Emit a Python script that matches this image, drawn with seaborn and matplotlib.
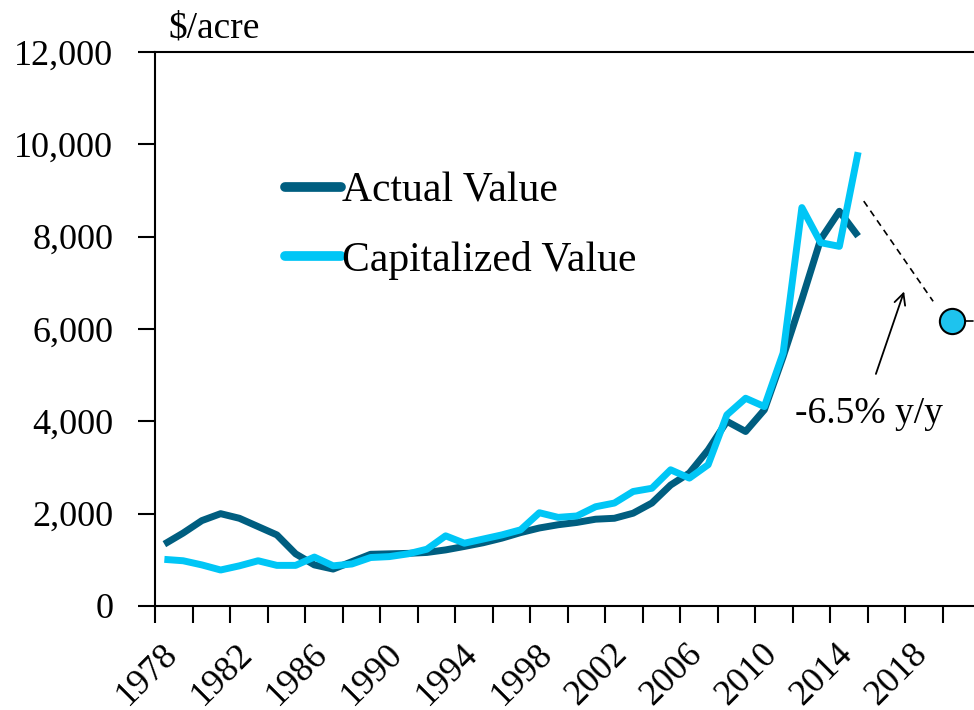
import matplotlib
matplotlib.use("Agg")
import matplotlib.pyplot as plt
import matplotlib.transforms as mtransforms
import seaborn as sns
import pandas as pd
import numpy as np
from matplotlib.ticker import FuncFormatter, MultipleLocator

years = list(range(1978, 2016))
actual_value = [1340, 1580, 1850, 2000, 1900, 1720, 1540, 1130, 890, 800,
                960, 1120, 1130, 1140, 1160, 1215, 1290, 1370, 1470, 1590,
                1690, 1760, 1810, 1880, 1900, 2010, 2230, 2620, 2880, 3380,
                4000, 3780, 4250, 5400, 6640, 7940, 8550, 8010]
capitalized_value = [1010, 980, 890, 780, 870, 980, 880, 880, 1060, 870,
                     910, 1050, 1070, 1130, 1230, 1520, 1360, 1450, 1540, 1650,
                     2020, 1920, 1950, 2150, 2230, 2480, 2550, 2950, 2770, 3060,
                     4140, 4500, 4320, 5480, 8630, 7870, 7790, 9830]
forecast_year = [2020]
forecast_value = [6180]
dash_x = [2015.8, 2019.5]
dash_y = [8770, 6600]
arrow_tail = (2016.4, 4970)
arrow_head = (2018.0, 6870)
annotation_text = "-6.5% y/y"
series_names = ["Actual Value", "Capitalized Value"]
colors = ["#005E80", "#00C6F6"]

df = pd.DataFrame({
    "year": years * 2,
    "value": actual_value + capitalized_value,
    "series": [series_names[0]] * len(years) + [series_names[1]] * len(years),
})
df["pos"] = df["year"] + 0.5  # category centre

sns.set_style("ticks")
plt.rcParams["font.family"] = ["Liberation Serif", "DejaVu Serif"]
plt.rcParams["text.color"] = "black"

fig = plt.figure(figsize=(9.74, 7.10), dpi=100)
ax = fig.add_axes([155 / 974, 104 / 710, 825 / 974, 554 / 710])

sns.lineplot(data=df, x="pos", y="value", hue="series", palette=colors,
             linewidth=5, ax=ax, legend=True, solid_capstyle="butt")

ax.plot(np.array(dash_x), dash_y, color="black", linestyle=(0, (4, 3)), linewidth=1.2)
ax.scatter(np.array(forecast_year) + 0.5, forecast_value, s=330, color="#1EC3EE",
           edgecolor="black", linewidth=1.5, zorder=5)
ax.plot([forecast_year[0] + 1.2, forecast_year[0] + 1.6], [forecast_value[0]] * 2,
        color="black", linewidth=1.2)
ax.annotate("", xy=arrow_head, xytext=arrow_tail,
            arrowprops=dict(arrowstyle="->", color="black", lw=1.3, mutation_scale=20))
ax.text(2016.1, 4160, annotation_text, fontsize=27, ha="center", va="center",
        color="black")

ax.set_xlim(1978, 2022)
ax.set_ylim(0, 12000)
ax.yaxis.set_major_locator(MultipleLocator(2000))
ax.yaxis.set_major_formatter(FuncFormatter(lambda v, p: f"{int(v):,}"))
ax.set_xticks(list(range(1978, 2019, 4)))
ax.set_xticklabels([str(y) for y in range(1978, 2019, 4)], rotation=45,
                   ha="right", rotation_mode="anchor")
ax.set_xticks(list(range(1980, 2021, 4)), minor=True)
ax.tick_params(axis="both", which="both", direction="out", length=12, width=1.5,
               colors="black")
ax.tick_params(axis="x", which="major", pad=4, labelsize=26)
ax.tick_params(axis="y", pad=18, labelsize=26)
offset = mtransforms.ScaledTranslation(6 / 100, -9 / 100, fig.dpi_scale_trans)
for lab in ax.get_xticklabels():
    lab.set_transform(lab.get_transform() + offset)
for s in ["left", "bottom", "top", "right"]:
    ax.spines[s].set_visible(True)
    ax.spines[s].set_linewidth(1.5)
    ax.spines[s].set_color("black")
ax.set_xlabel("")
ax.set_ylabel("")
ax.text((168 - 155) / 825, (606 - 38) / 554, "$/acre", transform=ax.transAxes,
        fontsize=27, ha="left", va="baseline", color="black")

leg = ax.legend(loc="upper left", bbox_to_anchor=((285 - 155) / 825, (606 - 172) / 554),
                frameon=False, fontsize=30, handlelength=1.35, handletextpad=0.02,
                labelspacing=0.72, borderpad=0, borderaxespad=0)
for line in leg.get_lines():
    line.set_linewidth(7)
    line.set_solid_capstyle("round")
for t in leg.get_texts():
    t.set_color("black")

fig.savefig("out.png", dpi=100)
